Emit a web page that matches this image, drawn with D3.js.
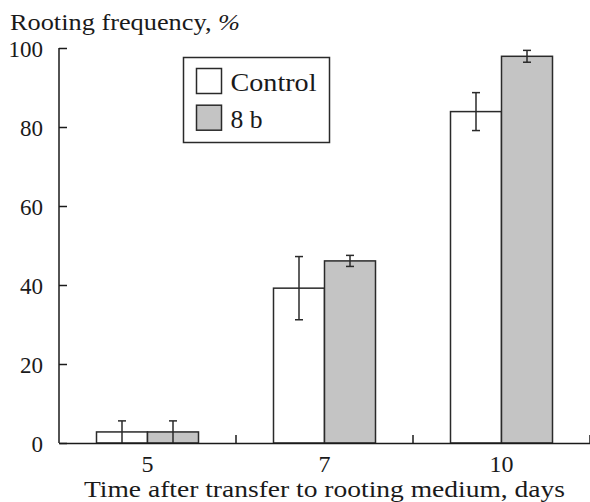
<!DOCTYPE html>
<html>
<head>
<meta charset="utf-8">
<script src="https://cdn.jsdelivr.net/npm/d3@7"></script>
<style>
  body { margin: 0; background: #fff; }
</style>
</head>
<body>
<svg id="chart" width="590" height="502"></svg>
<script>
var days = ['5', '7', '10'];
var seriesNames = ['Control', '8 b'];
var controlValues = [2.8, 39.2, 83.9];
var controlErrors = [2.8, 8.0, 4.8];
var treatedValues = [2.8, 46.1, 97.9];
var treatedErrors = [2.8, 1.4, 1.5];
var yTicks = [0, 20, 40, 60, 80, 100];

var fills = ['#ffffff', '#c4c4c4'];
var FONT = 'Liberation Serif';
var INK = '#1a1a1a';

var margin = {top: 48, right: 0, bottom: 59, left: 59};
var width = 590 - margin.left - margin.right;
var height = 502 - margin.top - margin.bottom;

var root = d3.select('#chart')
  .attr('font-family', FONT)
  .attr('font-size', 22);

var svg = root.append('g')
  .attr('transform', 'translate(' + margin.left + ',' + margin.top + ')');

var x = d3.scaleBand().domain(days).range([0, width]).padding(0);
var y = d3.scaleLinear().domain([0, 100]).range([height, 0]);
var barW = 51;

var rows = [];
days.forEach(function (d, i) {
  rows.push({day: d, s: 0, value: controlValues[i], err: controlErrors[i]});
  rows.push({day: d, s: 1, value: treatedValues[i], err: treatedErrors[i]});
});

function barX(r) {
  var c = x(r.day) + x.bandwidth() / 2;
  return r.s === 0 ? c - barW : c;
}

svg.selectAll('.bar')
  .data(rows)
  .enter().append('rect')
  .attr('class', 'bar')
  .attr('x', barX)
  .attr('y', function (r) { return y(r.value); })
  .attr('width', barW)
  .attr('height', function (r) { return height - y(r.value); })
  .attr('fill', function (r) { return fills[r.s]; })
  .attr('stroke', '#2a2a2a')
  .attr('stroke-width', 1.5);

// error bars
var err = svg.selectAll('.err')
  .data(rows)
  .enter().append('g')
  .attr('class', 'err')
  .attr('stroke', '#2a2a2a')
  .attr('stroke-width', 1.5);

err.append('line')
  .attr('x1', function (r) { return barX(r) + barW / 2; })
  .attr('x2', function (r) { return barX(r) + barW / 2; })
  .attr('y1', function (r) { return y(Math.max(0, r.value - r.err)); })
  .attr('y2', function (r) { return y(r.value + r.err); });

err.append('line')
  .attr('x1', function (r) { return barX(r) + barW / 2 - 4; })
  .attr('x2', function (r) { return barX(r) + barW / 2 + 4; })
  .attr('y1', function (r) { return y(r.value + r.err); })
  .attr('y2', function (r) { return y(r.value + r.err); });

err.filter(function (r) { return r.value - r.err > 0.5; })
  .append('line')
  .attr('x1', function (r) { return barX(r) + barW / 2 - 4; })
  .attr('x2', function (r) { return barX(r) + barW / 2 + 4; })
  .attr('y1', function (r) { return y(r.value - r.err); })
  .attr('y2', function (r) { return y(r.value - r.err); });

// y axis
var yAxis = svg.append('g')
  .call(d3.axisLeft(y).tickValues(yTicks).tickSize(-8).tickPadding(16))
  .attr('font-family', FONT)
  .attr('font-size', 23);
yAxis.select('.domain').attr('d', 'M0,' + height + 'V0').attr('stroke', INK).attr('stroke-width', 1.5);
yAxis.selectAll('.tick line').attr('stroke', INK).attr('stroke-width', 1.5);
yAxis.selectAll('.tick text').attr('fill', INK).attr('dy', '0.36em');

// x axis
var xAxis = svg.append('g')
  .attr('transform', 'translate(0,' + height + ')')
  .call(d3.axisBottom(x).tickSize(0).tickPadding(12))
  .attr('font-family', FONT)
  .attr('font-size', 24);
xAxis.select('.domain').attr('stroke', INK).attr('stroke-width', 1.5);
xAxis.selectAll('.tick text').attr('fill', INK);

// separator ticks between groups
xAxis.selectAll('.sep')
  .data(days)
  .enter().append('line')
  .attr('class', 'sep')
  .attr('x1', function (d) { return x(d) + x.bandwidth(); })
  .attr('x2', function (d) { return x(d) + x.bandwidth(); })
  .attr('y1', 0)
  .attr('y2', -8)
  .attr('stroke', INK)
  .attr('stroke-width', 1.5);

// titles (reference type is set wider than Liberation Serif, so stretch it)
var yt = root.append('text')
  .attr('x', 10)
  .attr('y', 30)
  .attr('font-size', 23)
  .attr('textLength', 230)
  .attr('lengthAdjust', 'spacingAndGlyphs')
  .attr('fill', INK);
yt.append('tspan').text('Rooting frequency, ');
yt.append('tspan').attr('font-style', 'italic').text('%');

root.append('text')
  .attr('x', margin.left + width / 2 - 240.5)
  .attr('y', 497)
  .attr('font-size', 24)
  .attr('textLength', 481)
  .attr('lengthAdjust', 'spacingAndGlyphs')
  .attr('fill', INK)
  .text('Time after transfer to rooting medium, days');

// legend
var legend = root.append('g')
  .attr('transform', 'translate(183.5,57.5)');
legend.append('rect')
  .attr('width', 146)
  .attr('height', 85)
  .attr('fill', '#fff')
  .attr('stroke', '#2a2a2a')
  .attr('stroke-width', 1.5);
var item = legend.selectAll('.item')
  .data(seriesNames)
  .enter().append('g')
  .attr('transform', function (d, i) { return 'translate(13,' + (11 + i * 36.7) + ')'; });
item.append('rect')
  .attr('width', 25)
  .attr('height', 25)
  .attr('fill', function (d, i) { return fills[i]; })
  .attr('stroke', '#2a2a2a')
  .attr('stroke-width', 1.5);
var legendWidths = [86, 32];
item.append('text')
  .attr('x', 34)
  .attr('y', 22.5)
  .attr('font-size', 25)
  .attr('textLength', function (d, i) { return legendWidths[i]; })
  .attr('lengthAdjust', 'spacingAndGlyphs')
  .attr('fill', INK)
  .text(function (d) { return d; });
</script>
</body>
</html>
